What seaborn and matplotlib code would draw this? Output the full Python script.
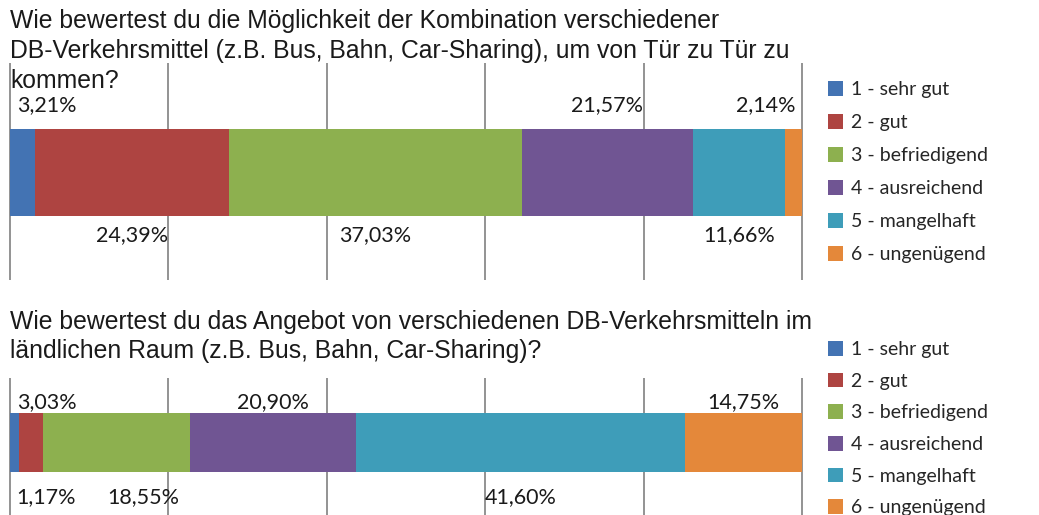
"""
Zwei gestapelte Balken (Umfrage DB-Verkehrsmittel) mit Legende rechts
"""

import matplotlib
matplotlib.use("Agg")
import matplotlib.pyplot as plt
from matplotlib.patches import Patch
import seaborn as sns


noten = ["1 - sehr gut", "2 - gut", "3 - befriedigend", "4 - ausreichend",
         "5 - mangelhaft", "6 - ungenügend"]
kombination = [3.21, 24.39, 37.03, 21.57, 11.66, 2.14]
laendlich = [1.17, 3.03, 18.55, 20.90, 41.60, 14.75]

frage_1 = ("Wie bewertest du die Möglichkeit der Kombination verschiedener\n"
           "DB-Verkehrsmittel (z.B. Bus, Bahn, Car-Sharing), um von Tür zu Tür zu\n"
           "kommen?")
frage_2 = ("Wie bewertest du das Angebot von verschiedenen DB-Verkehrsmitteln im\n"
           "ländlichen Raum (z.B. Bus, Bahn, Car-Sharing)?")

# wo steht die Beschriftung: ueber oder unter dem Balken
seite_1 = ["oben", "unten", "unten", "oben", "unten", "oben"]
seite_2 = ["unten", "oben", "unten", "oben", "unten", "oben"]

farben = ["#4373B3", "#AE4441", "#8DB04F", "#705593", "#3E9DB9", "#E4883A"]

sns.set_style("white")
plt.rcParams["font.family"] = ["Lato", "DejaVu Sans"]

W, H = 1039, 515
fig = plt.figure(figsize=(W / 100, H / 100), dpi=100)


def panel(y_top, y_bot, bar_top, bar_bot, werte, seite, off_oben, off_unten):
    # Achse in Pixeln platzieren
    x0, x1 = 10, 802
    pad = 0.25
    ppu = (x1 - x0) / 100
    left = (x0 - pad * ppu) / W
    width = (x1 - x0 + 2 * pad * ppu) / W
    ax = fig.add_axes([left, 1 - y_bot / H, width, (y_bot - y_top) / H])

    cum = []
    s = 0
    for v in werte:
        s += v
        cum.append(s)
    # ueberlagerte kumulierte Balken = gestapelt
    for i in reversed(range(len(werte))):
        sns.barplot(x=[cum[i]], y=["q"], orient="h", color=farben[i],
                    saturation=1, width=1.0, errorbar=None, ax=ax, linewidth=0)

    ppy = bar_bot - bar_top
    ax.set_ylim(0.5 + (y_bot - bar_bot) / ppy, -0.5 - (bar_top - y_top) / ppy)
    ax.set_xlim(-pad, 100 + pad)
    ax.set_xticks(range(0, 101, 20))
    ax.set_xticklabels([])
    ax.set_yticks([])
    ax.set_xlabel("")
    ax.set_ylabel("")
    ax.tick_params(length=0)
    ax.xaxis.grid(True, color="#8a8a8a", linewidth=1.3)
    ax.set_axisbelow(True)
    for sp in ax.spines.values():
        sp.set_visible(False)

    # Beschriftungen: Segmentmitte, im Bereich halten, nicht ueberlappen
    halb = 4.6
    rechts = {"oben": -99, "unten": -99}
    start = 0
    for v, pos in zip(werte, seite):
        mitte = min(max(start + v / 2, halb), 100 - halb)
        if mitte - halb < rechts[pos] + 3:
            mitte = rechts[pos] + 3 + halb
        rechts[pos] = mitte + halb
        txt = f"{v:.2f}%".replace(".", ",")
        if pos == "oben":
            ax.annotate(txt, (mitte, -0.5), xytext=(0, off_oben), textcoords="offset pixels",
                        ha="center", va="center", fontsize=15.5, color="#1a1a1a")
        else:
            ax.annotate(txt, (mitte, 0.5), xytext=(0, -off_unten), textcoords="offset pixels",
                        ha="center", va="center", fontsize=15.5, color="#1a1a1a")
        start += v
    return ax


ax1 = panel(63, 280, 129, 216, kombination, seite_1, 24, 19)
ax2 = panel(378, 530, 413, 472, laendlich, seite_2, 11, 25)

fig.text(10 / W, 1 - 9 / H, frage_1, ha="left", va="top", fontsize=17.8,
         family="Liberation Sans", color="#1a1a1a", linespacing=1.32)
fig.text(10 / W, 1 - 310 / H, frage_2, ha="left", va="top", fontsize=17.8,
         family="Liberation Sans", color="#1a1a1a", linespacing=1.28)

handles = [Patch(facecolor=c, edgecolor="none") for c in farben]
for y_first, gap in [(81, 0.82), (341, 0.75)]:
    fig.legend(handles, noten, loc="upper left", bbox_to_anchor=(828 / W, 1 - y_first / H),
               frameon=False, fontsize=14, handlelength=0.78, handleheight=0.78,
               handletextpad=0.4, labelspacing=gap, borderpad=0, borderaxespad=0)

fig.savefig("out.png", dpi=100)
